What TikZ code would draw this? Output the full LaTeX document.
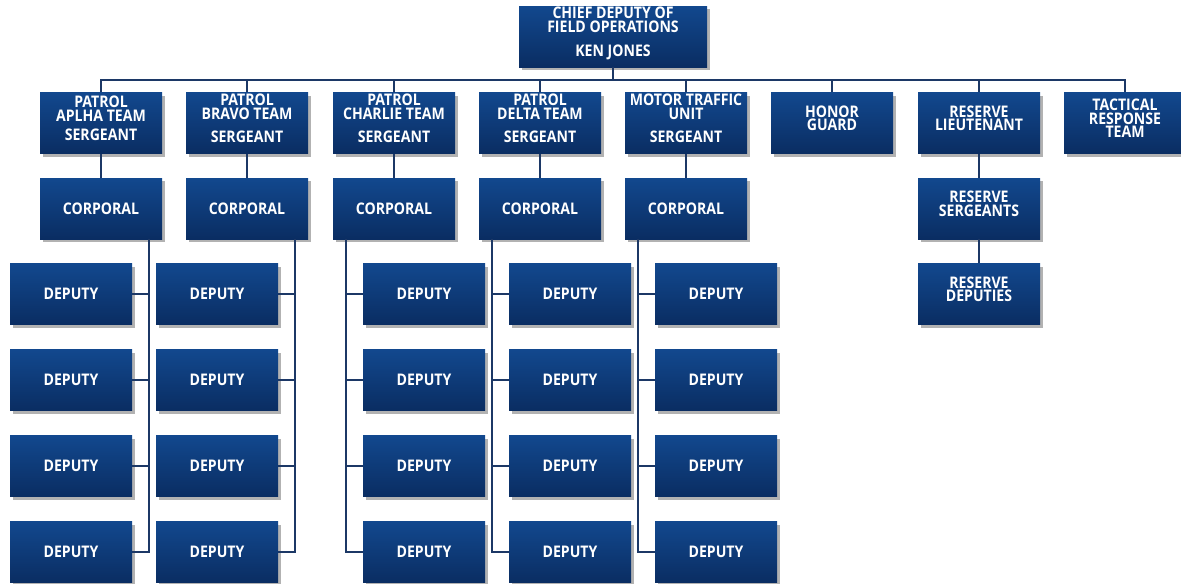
\documentclass[tikz,border=0pt]{standalone}
\usepackage{fontspec}
\setmainfont{Open Sans}[FakeStretch=0.88]
\usepackage{tikz}
\usetikzlibrary{shadows}
\definecolor{boxtop}{RGB}{18,72,142}
\definecolor{boxbottom}{RGB}{10,45,98}
\definecolor{linkblue}{RGB}{28,56,102}
\tikzset{
rank/.style = { rectangle, top color = boxtop, bottom color = boxbottom, minimum width = 91.5pt, minimum height = 45.75pt, inner sep = 0pt, text = white, align = center, font = \bfseries\fontsize{12}{10.2}\selectfont, drop shadow = {shadow xshift = 2pt, shadow yshift = -2.5pt, fill = black, opacity = 0.3} },
wide rank/.style = { rank, minimum width = 141pt },
lifted/.style = { execute at end node = {\rule[-7pt]{0pt}{7pt}} },
link/.style = { draw = linkblue, line width = 1.5pt },
}

\begin{document}
\begin{tikzpicture}[x = 0.75pt, y = -0.75pt]
      \useasboundingbox (0, 0) rectangle (1181, 583);
      % chief and first row
      \node[wide rank, lifted] (chief) at (613, 36.5) {CHIEF DEPUTY OF\\FIELD OPERATIONS\\[8pt]KEN JONES};
      \node[rank, lifted] (alphaS) at (101, 123) {PATROL\\APLHA TEAM\\[4pt]SERGEANT};
      \node[rank, lifted] (bravoS) at (247, 123) {PATROL\\BRAVO TEAM\\[7pt]SERGEANT};
      \node[rank, lifted] (charlieS) at (394, 123) {PATROL\\CHARLIE TEAM\\[7pt]SERGEANT};
      \node[rank, lifted] (deltaS) at (540, 123) {PATROL\\DELTA TEAM\\[7pt]SERGEANT};
      \node[rank, lifted] (motorS) at (686, 123) {MOTOR TRAFFIC\\UNIT\\[7pt]SERGEANT};
      \node[rank, lifted] (honor) at (832, 123) {HONOR\\GUARD};
      \node[rank, lifted] (reserveL) at (979, 123) {RESERVE\\LIEUTENANT};
      \node[rank, lifted] (tactical) at (1125, 123) {TACTICAL\\RESPONSE\\TEAM};
      % corporals
      \node[rank] (alphaC) at (101, 208.5) {CORPORAL};
      \node[rank] (bravoC) at (247, 208.5) {CORPORAL};
      \node[rank] (charlieC) at (394, 208.5) {CORPORAL};
      \node[rank] (deltaC) at (540, 208.5) {CORPORAL};
      \node[rank] (motorC) at (686, 208.5) {CORPORAL};
      \node[rank, lifted] (reserveS) at (979, 208.5) {RESERVE\\SERGEANTS};
      \node[rank, lifted] (reserveD) at (979, 294) {RESERVE\\DEPUTIES};
      % deputies
      \node[rank] (alphaD1) at (71, 294) {DEPUTY};
      \node[rank] (alphaD2) at (71, 380) {DEPUTY};
      \node[rank] (alphaD3) at (71, 466) {DEPUTY};
      \node[rank] (alphaD4) at (71, 552) {DEPUTY};
      \node[rank] (bravoD1) at (217, 294) {DEPUTY};
      \node[rank] (bravoD2) at (217, 380) {DEPUTY};
      \node[rank] (bravoD3) at (217, 466) {DEPUTY};
      \node[rank] (bravoD4) at (217, 552) {DEPUTY};
      \node[rank] (charlieD1) at (424, 294) {DEPUTY};
      \node[rank] (charlieD2) at (424, 380) {DEPUTY};
      \node[rank] (charlieD3) at (424, 466) {DEPUTY};
      \node[rank] (charlieD4) at (424, 552) {DEPUTY};
      \node[rank] (deltaD1) at (570, 294) {DEPUTY};
      \node[rank] (deltaD2) at (570, 380) {DEPUTY};
      \node[rank] (deltaD3) at (570, 466) {DEPUTY};
      \node[rank] (deltaD4) at (570, 552) {DEPUTY};
      \node[rank] (motorD1) at (716, 294) {DEPUTY};
      \node[rank] (motorD2) at (716, 380) {DEPUTY};
      \node[rank] (motorD3) at (716, 466) {DEPUTY};
      \node[rank] (motorD4) at (716, 552) {DEPUTY};
      % links
      \coordinate (bus) at (613, 80);
      \draw[link] (chief) -- (bus);
      \draw[link] (bus) -| (alphaS);
      \draw[link] (bus) -| (bravoS);
      \draw[link] (bus) -| (charlieS);
      \draw[link] (bus) -| (deltaS);
      \draw[link] (bus) -| (motorS);
      \draw[link] (bus) -| (honor);
      \draw[link] (bus) -| (reserveL);
      \draw[link] (bus) -| (tactical);
      \draw[link] (alphaS) -- (alphaC);
      \draw[link] (bravoS) -- (bravoC);
      \draw[link] (charlieS) -- (charlieC);
      \draw[link] (deltaS) -- (deltaC);
      \draw[link] (motorS) -- (motorC);
      \draw[link] (reserveL) -- (reserveS) -- (reserveD);
      \coordinate (alphaV) at ([xshift = 36pt]alphaC.south);
      \coordinate (bravoV) at ([xshift = 36pt]bravoC.south);
      \coordinate (charlieV) at ([xshift = -36pt]charlieC.south);
      \coordinate (deltaV) at ([xshift = -36pt]deltaC.south);
      \coordinate (motorV) at ([xshift = -36pt]motorC.south);
      \draw[link] (alphaV) |- (alphaD1) (alphaV) |- (alphaD2) (alphaV) |- (alphaD3) (alphaV) |- (alphaD4);
      \draw[link] (bravoV) |- (bravoD1) (bravoV) |- (bravoD2) (bravoV) |- (bravoD3) (bravoV) |- (bravoD4);
      \draw[link] (charlieV) |- (charlieD1) (charlieV) |- (charlieD2) (charlieV) |- (charlieD3) (charlieV) |- (charlieD4);
      \draw[link] (deltaV) |- (deltaD1) (deltaV) |- (deltaD2) (deltaV) |- (deltaD3) (deltaV) |- (deltaD4);
      \draw[link] (motorV) |- (motorD1) (motorV) |- (motorD2) (motorV) |- (motorD3) (motorV) |- (motorD4);
    \end{tikzpicture}
\end{document}
